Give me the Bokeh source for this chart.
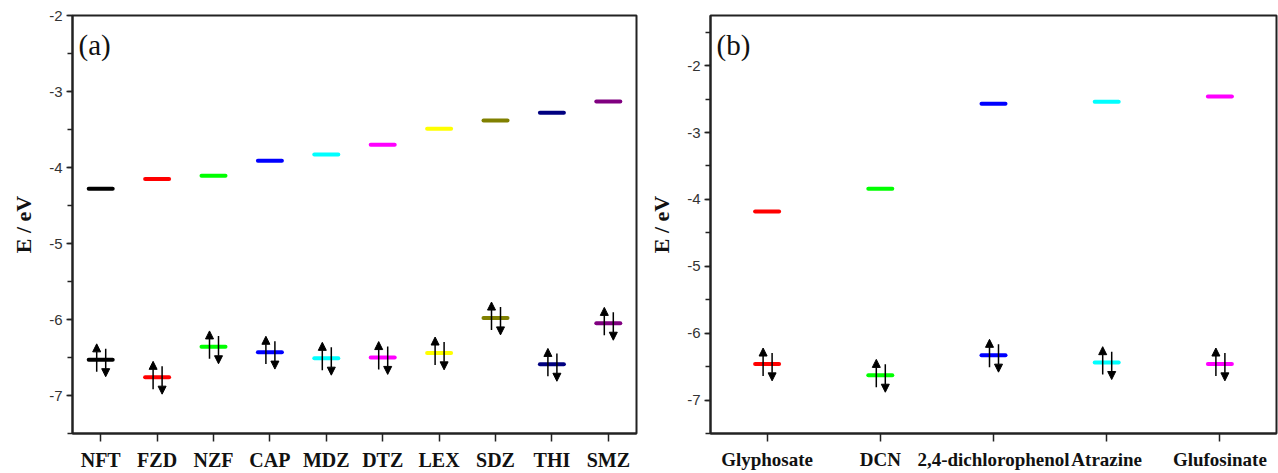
from bokeh.plotting import figure
from bokeh.models import (ColumnDataSource, Arrow, NormalHead, FixedTicker, Label,
                          SingleIntervalTicker, Range1d, PrintfTickFormatter)
from bokeh.layouts import row
from bokeh.embed import file_html
from bokeh.resources import INLINE

# ---- data: panel (a) ----
cats_a = ["NFT", "FZD", "NZF", "CAP", "MDZ", "DTZ", "LEX", "SDZ", "THI", "SMZ"]
lumo_a = [-4.28, -4.15, -4.11, -3.91, -3.83, -3.70, -3.49, -3.38, -3.28, -3.13]
homo_a = [-6.53, -6.76, -6.36, -6.43, -6.51, -6.50, -6.44, -5.98, -6.59, -6.05]
colors_a = ["#000000", "#ff0000", "#00ff00", "#0000ff", "#00ffff",
            "#ff00ff", "#ffff00", "#808000", "#000080", "#800080"]

# ---- data: panel (b) ----
cats_b = ["Glyphosate", "DCN", "2,4-dichlorophenol", "Atrazine", "Glufosinate"]
lumo_b = [-4.18, -3.84, -2.57, -2.54, -2.46]
homo_b = [-6.46, -6.63, -6.33, -6.44, -6.46]
colors_b = ["#ff0000", "#00ff00", "#0000ff", "#00ffff", "#ff00ff"]


def make_panel(cats, lumo, homo, colors, ymin, ymax, width, height,
               bl, br, bt, bb, tag, xfs):
    n = len(cats)
    xs = list(range(1, n + 1))
    p = figure(width=width, height=height, output_backend="svg", toolbar_location=None,
               x_range=Range1d(0.5, n + 0.5), y_range=Range1d(ymin, ymax),
               min_border_left=bl, min_border_right=br, min_border_top=bt,
               min_border_bottom=bb)
    fw = width - bl - br
    fh = height - bt - bb
    pxx = fw / n
    pxy = fh / (ymax - ymin)
    hw = 12 / pxx

    seg = ColumnDataSource(dict(
        x0=[x - hw for x in xs] * 2, x1=[x + hw for x in xs] * 2,
        y=list(lumo) + list(homo), c=list(colors) * 2))
    p.segment(x0="x0", y0="y", x1="x1", y1="y", source=seg, line_color="c",
              line_width=4, line_cap="round")

    up = ColumnDataSource(dict(
        xs=[x - 4 / pxx for x in xs],
        ys=[e - 12 / pxy for e in homo], ye=[e + 16 / pxy for e in homo]))
    dn = ColumnDataSource(dict(
        xs=[x + 5 / pxx for x in xs],
        ys=[e + 11 / pxy for e in homo], ye=[e - 17 / pxy for e in homo]))
    for src in (up, dn):
        p.add_layout(Arrow(end=NormalHead(size=8, fill_color="black", line_color="black"),
                           x_start="xs", y_start="ys", x_end="xs", y_end="ye",
                           line_color="black", line_width=1.5, source=src))

    p.grid.visible = False
    p.outline_line_color = "#222222"
    p.outline_line_width = 2
    p.outline_line_alpha = 1

    p.xaxis.ticker = FixedTicker(ticks=xs)
    p.xaxis.major_label_overrides = {x: c for x, c in zip(xs, cats)}
    p.xaxis.major_tick_out = 8
    p.xaxis.major_tick_in = 0
    p.xaxis.major_label_standoff = 7
    p.xaxis.major_label_text_font = "Liberation Serif"
    p.xaxis.major_label_text_font_style = "bold"
    p.xaxis.major_label_text_font_size = xfs
    p.xaxis.major_label_text_color = "#111111"

    p.yaxis.ticker = SingleIntervalTicker(interval=1, num_minor_ticks=2)
    p.yaxis.formatter = PrintfTickFormatter(format="%d")
    p.yaxis.major_tick_out = 6
    p.yaxis.major_tick_in = 0
    p.yaxis.minor_tick_out = 5
    p.yaxis.minor_tick_in = 0
    p.yaxis.major_label_standoff = 4
    p.yaxis.major_label_text_font = "Liberation Sans"
    p.yaxis.major_label_text_font_size = "15px"
    p.yaxis.major_label_text_color = "#333333"
    p.yaxis.axis_label = "E / eV"
    p.yaxis.axis_label_text_font = "Liberation Serif"
    p.yaxis.axis_label_text_font_style = "bold"
    p.yaxis.axis_label_text_font_size = "22px"
    p.yaxis.axis_label_text_color = "#111111"
    p.yaxis.axis_label_standoff = 10

    for ax in (p.xaxis, p.yaxis):
        ax.axis_line_color = "#222222"
        ax.axis_line_width = 2
        ax.major_tick_line_color = "#222222"
        ax.major_tick_line_width = 1.5
        ax.minor_tick_line_color = "#222222"
        ax.minor_tick_line_width = 1.5
    p.xaxis.minor_tick_line_color = None

    # panel tag, kept inside the frame's top-left corner (annotations are clipped to it)
    p.add_layout(Label(x=6, y=fh - 31, x_units="screen", y_units="screen", text=tag,
                       text_font="Liberation Serif", text_font_size="29px",
                       text_color="#111111", text_align="left",
                       text_baseline="alphabetic"))
    return p


pa = make_panel(cats_a, lumo_a, homo_a, colors_a, -7.5, -2, 645, 473,
                72, 9, 15, 38, "(a)", "20px")
pb = make_panel(cats_b, lumo_b, homo_b, colors_b, -7.5, -1.25, 633, 473,
                65, 2, 15, 38, "(b)", "19px")

layout = row(pa, pb)
open("out.html", "w").write(file_html(layout, INLINE))
